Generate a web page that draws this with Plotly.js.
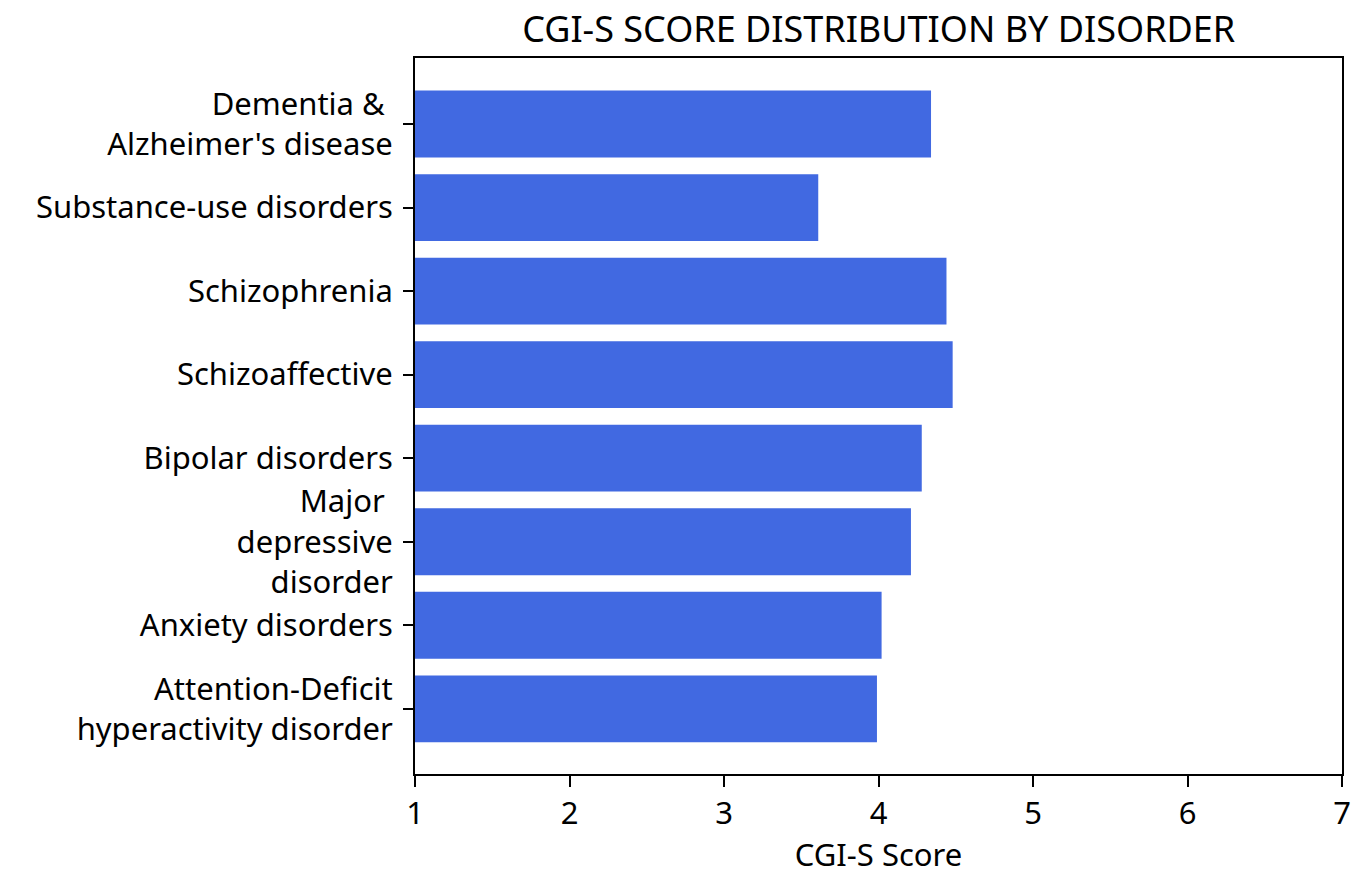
<!DOCTYPE html>
<html>
<head>
<meta charset="utf-8">
<script src="https://cdn.plot.ly/plotly-3.0.1.min.js"></script>
<style>html,body{margin:0;padding:0;background:#fff;}#chart{width:1355px;height:877px;}</style>
</head>
<body>
<div id="chart"></div>
<script>
const categories = [
  "Dementia &\u00a0<br>Alzheimer's disease",
  "Substance-use disorders",
  "Schizophrenia",
  "Schizoaffective",
  "Bipolar disorders",
  "Major\u00a0<br>depressive<br>disorder",
  "Anxiety disorders",
  "Attention-Deficit<br>hyperactivity disorder"
];
const scores = [4.34, 3.61, 4.44, 4.48, 4.28, 4.21, 4.02, 3.99];
const xTicks = [1, 2, 3, 4, 5, 6, 7];

const FONT = "'Noto Sans', Lato, sans-serif";

const trace = {
  type: "bar",
  orientation: "h",
  y: categories,
  x: scores,
  width: 0.8,
  marker: {color: "#4169E1"},
  hoverinfo: "x+y"
};

const layout = {
  width: 1355,
  height: 877,
  margin: {l: 415, r: 13, t: 58, b: 103},
  paper_bgcolor: "#fff",
  plot_bgcolor: "#fff",
  showlegend: false,
  font: {family: FONT, color: "#000", size: 31},
  title: {
    text: "CGI-S SCORE DISTRIBUTION BY DISORDER",
    font: {family: FONT, size: 36, color: "#000"},
    x: 0.6485, xanchor: "center",
    y: 0.967, yanchor: "middle"
  },
  xaxis: {
    range: [1, 7],
    tickvals: xTicks,
    ticktext: xTicks.map(String),
    ticks: "outside",
    ticklen: 11,
    tickwidth: 2,
    tickcolor: "#000",
    showline: true,
    linecolor: "#000",
    linewidth: 2,
    mirror: true,
    showgrid: false,
    zeroline: false,
    tickfont: {family: FONT, size: 31, color: "#000"},
    title: {text: "CGI-S Score", font: {family: FONT, size: 31, color: "#000"}, standoff: 12}
  },
  yaxis: {
    type: "category",
    categoryorder: "array",
    categoryarray: categories,
    range: [7.78, -0.79],
    ticks: "outside",
    ticklen: 10,
    tickwidth: 2,
    tickcolor: "#000",
    ticklabelstandoff: 4,
    showline: true,
    linecolor: "#000",
    linewidth: 2,
    mirror: true,
    showgrid: false,
    zeroline: false,
    tickfont: {family: FONT, size: 31, color: "#000"}
  },
  bargap: 0.2
};

Plotly.newPlot("chart", [trace], layout, {displayModeBar: false, staticPlot: true});
</script>
</body>
</html>
